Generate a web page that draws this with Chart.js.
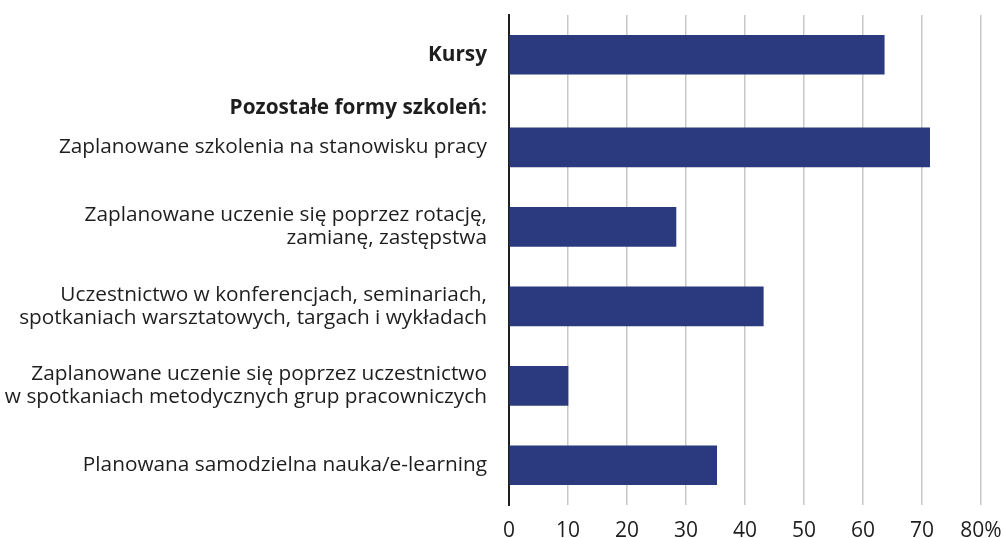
<!DOCTYPE html>
<html>
<head>
<meta charset="utf-8">
<script src="https://cdn.jsdelivr.net/npm/chart.js@4"></script>
<style>
  html, body { margin: 0; padding: 0; background: #fff; }
  #wrap { width: 1005px; height: 538px; }
</style>
</head>
<body>
<div id="wrap"><canvas id="chart"></canvas></div>
<script>
const categories = [
    'Kursy',
    'Pozostałe formy szkoleń:',
    'Zaplanowane szkolenia na stanowisku pracy',
    ['Zaplanowane uczenie się poprzez rotację,', 'zamianę, zastępstwa'],
    ['Uczestnictwo w konferencjach, seminariach,', 'spotkaniach warsztatowych, targach i wykładach'],
    ['Zaplanowane uczenie się poprzez uczestnictwo', 'w spotkaniach metodycznych grup pracowniczych'],
    'Planowana samodzielna nauka/e-learning'
];
const values = [63.6, null, 71.3, 28.3, 43.1, 10.0, 35.2];
const boldLabels = ['Kursy', 'Pozostałe formy szkoleń:'];
const xTicks = [0, 10, 20, 30, 40, 50, 60, 70, 80];

// rows are uneven in the original, so spread categories over blank slots
const slotOf = [3, 7, 10, 16, 22, 28, 34];
const totalSlots = 38;
const labels = new Array(totalSlots).fill('');
const data = new Array(totalSlots).fill(null);
categories.forEach((c, i) => {
    labels[slotOf[i]] = c;
    data[slotOf[i]] = values[i];
});

const FONT = "'Open Sans', 'Noto Sans', sans-serif";

new Chart(document.getElementById('chart'), {
    type: 'bar',
    data: {
        labels: labels,
        datasets: [{
            data: data,
            backgroundColor: '#2b3a7e',
            borderWidth: 0,
            barThickness: 39
        }]
    },
    options: {
        indexAxis: 'y',
        responsive: true,
        maintainAspectRatio: false,
        animation: false,
        layout: { padding: { top: 15, left: 0, right: 0, bottom: 0 } },
        plugins: { legend: { display: false }, tooltip: { enabled: false } },
        scales: {
            x: {
                min: 0,
                max: 80,
                afterBuildTicks: scale => { scale.ticks = xTicks.map(v => ({ value: v })); },
                afterFit: scale => {
                    scale.height = 33;
                    scale.paddingLeft = 0;
                    scale.paddingRight = 24;
                },
                grid: { color: '#c8c8c8', lineWidth: 1.5, drawTicks: false },
                border: { display: false },
                ticks: {
                    padding: 13,
                    color: '#1e1e1e',
                    font: { family: FONT, size: 21 },
                    callback: v => v === 80 ? '80%' : String(v)
                }
            },
            y: {
                offset: false,
                afterFit: scale => {
                    scale.width = 509;
                    scale.paddingTop = 0;
                    scale.paddingBottom = 0;
                },
                grid: { display: false, drawTicks: false },
                border: { display: true, color: '#1e1e1e', width: 2 },
                ticks: {
                    autoSkip: false,
                    padding: 22,
                    color: '#1e1e1e',
                    font: ctx => ({
                        family: FONT,
                        size: 20.8,
                        lineHeight: 1.1,
                        weight: boldLabels.includes(labels[ctx.index]) ? 'bold' : 'normal'
                    })
                }
            }
        }
    }
});
</script>
</body>
</html>
